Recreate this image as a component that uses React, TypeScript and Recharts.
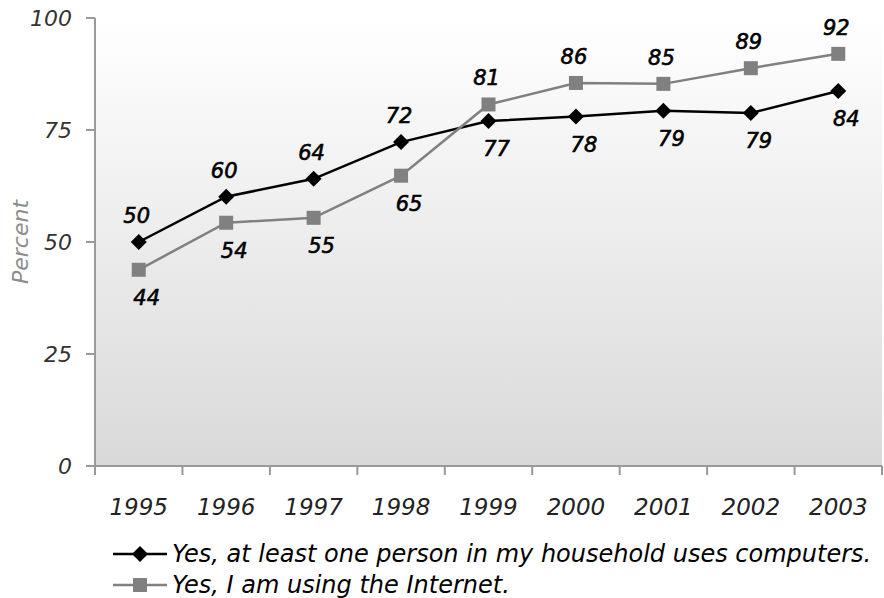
import { CartesianGrid, Line, LineChart, XAxis, YAxis } from 'recharts';

const YEARS = ['1995', '1996', '1997', '1998', '1999', '2000', '2001', '2002', '2003'];
const COMPUTERS = [50, 60.1, 64.1, 72.3, 77, 78, 79.3, 78.8, 83.7];
const INTERNET = [43.8, 54.3, 55.4, 64.8, 80.7, 85.5, 85.3, 88.8, 92];
const Y_TICKS = [0, 25, 50, 75, 100];
const SERIES_NAMES = ['Yes, at least one person in my household uses computers.', 'Yes, I am using the Internet.'];

const FONT = '"DejaVu Sans", sans-serif';
const BLACK = '#000000';
const GRAY = '#808080';
const AXIS = '#999999';

const data = YEARS.map((year, i) => ({ idx: i, year, computers: COMPUTERS[i], internet: INTERNET[i] }));
// centers carry the year labels, half steps carry the tick marks
const xTicks = YEARS.flatMap((_, i) => [i - 0.5, i]).concat(YEARS.length - 0.5);

const Diamond = ({ cx, cy, fill }: { cx?: number; cy?: number; fill: string }) => {
    if (cx == null || cy == null) return null;
    const r = 8;
    return <path d={`M${cx},${cy - r}L${cx + r},${cy}L${cx},${cy + r}L${cx - r},${cy}Z`} fill={fill} />;
};

const Square = ({ cx, cy, fill }: { cx?: number; cy?: number; fill: string }) => {
    if (cx == null || cy == null) return null;
    const r = 7;
    return <rect x={cx - r} y={cy - r} width={r * 2} height={r * 2} fill={fill} />;
};

const YearTick = (props: any) => {
    const { x, y, payload } = props;
    const v = payload.value as number;
    if (!Number.isInteger(v)) {
        return <line x1={x} y1={y} x2={x} y2={y + 9} stroke={AXIS} strokeWidth={2} />;
    }
    return (
        <text x={x} y={y + 49} textAnchor="middle" fontFamily={FONT} fontStyle="italic" fontSize={23} fill="#222">
            {YEARS[v]}
        </text>
    );
};

// label goes above the point when this series is the higher one, below otherwise
const makeLabel = (own: number[], other: number[]) => (props: any) => {
    const { x, y, index, value } = props;
    const above = own[index] >= other[index];
    return (
        <text
            x={x + (above ? -2 : 8)}
            y={y + (above ? -26 : 28)}
            textAnchor="middle"
            dominantBaseline="central"
            fontFamily={FONT}
            fontStyle="italic"
            fontSize={21}
            fill="#000"
            stroke="#000"
            strokeWidth={0.6}
        >
            {Math.round(value)}
        </text>
    );
};

const LegendRow = ({ name, color, marker }: { name: string; color: string; marker: 'diamond' | 'square' }) => (
    <div style={{ display: 'flex', alignItems: 'center', height: 31 }}>
        <svg width={60} height={20} style={{ flex: 'none' }}>
            <line x1={2} y1={10} x2={56} y2={10} stroke={color} strokeWidth={2.5} />
            {marker === 'diamond' ? <Diamond cx={29} cy={10} fill={color} /> : <Square cx={29} cy={10} fill={color} />}
        </svg>
        <span style={{ fontFamily: FONT, fontStyle: 'italic', fontSize: 24, color: '#000', marginLeft: 1, whiteSpace: 'nowrap' }}>
            {name}
        </span>
    </div>
);

export default function App() {
    return (
        <div style={{ position: 'relative', width: 884, height: 598, background: '#fff' }}>
            <style>{'body{margin:0}'}</style>
            <LineChart width={884} height={536} data={data} margin={{ top: 18, right: 2, left: 0, bottom: 0 }}>
                <defs>
                    <linearGradient id="plotBg" x1="0" y1="0" x2="0" y2="1">
                        <stop offset="0%" stopColor="#ffffff" />
                        <stop offset="100%" stopColor="#d9d9d9" />
                    </linearGradient>
                </defs>
                <CartesianGrid horizontal={false} vertical={false} fill="url(#plotBg)" />
                <XAxis
                    type="number"
                    dataKey="idx"
                    domain={[-0.5, YEARS.length - 0.5]}
                    ticks={xTicks}
                    interval={0}
                    height={70}
                    tickSize={0}
                    tickMargin={0}
                    tickLine={false}
                    tick={<YearTick />}
                    axisLine={{ stroke: AXIS, strokeWidth: 2 }}
                />
                <YAxis
                    domain={[0, 100]}
                    ticks={Y_TICKS}
                    width={95}
                    tickSize={9}
                    tickMargin={14}
                    axisLine={{ stroke: AXIS, strokeWidth: 2 }}
                    tickLine={{ stroke: AXIS, strokeWidth: 2 }}
                    tick={{ fontFamily: FONT, fontStyle: 'italic', fontSize: 22, fill: '#333' }}
                    label={{
                        value: 'Percent',
                        angle: -90,
                        position: 'center',
                        dx: -27,
                        style: { fontFamily: FONT, fontStyle: 'italic', fontSize: 22, fill: '#8c8c8c' },
                    }}
                />
                <Line
                    dataKey="computers"
                    stroke={BLACK}
                    strokeWidth={2.5}
                    dot={(p: any) => <Diamond key={`c-${p.index}`} cx={p.cx} cy={p.cy} fill={BLACK} />}
                    activeDot={false}
                    label={makeLabel(COMPUTERS, INTERNET)}
                    isAnimationActive={false}
                />
                <Line
                    dataKey="internet"
                    stroke={GRAY}
                    strokeWidth={2.5}
                    dot={(p: any) => <Square key={`i-${p.index}`} cx={p.cx} cy={p.cy} fill={GRAY} />}
                    activeDot={false}
                    label={makeLabel(INTERNET, COMPUTERS)}
                    isAnimationActive={false}
                />
            </LineChart>

            {/* Legend */}
            <div style={{ position: 'absolute', left: 111, top: 538 }}>
                <LegendRow name={SERIES_NAMES[0]} color={BLACK} marker="diamond" />
                <LegendRow name={SERIES_NAMES[1]} color={GRAY} marker="square" />
            </div>
        </div>
    );
}
